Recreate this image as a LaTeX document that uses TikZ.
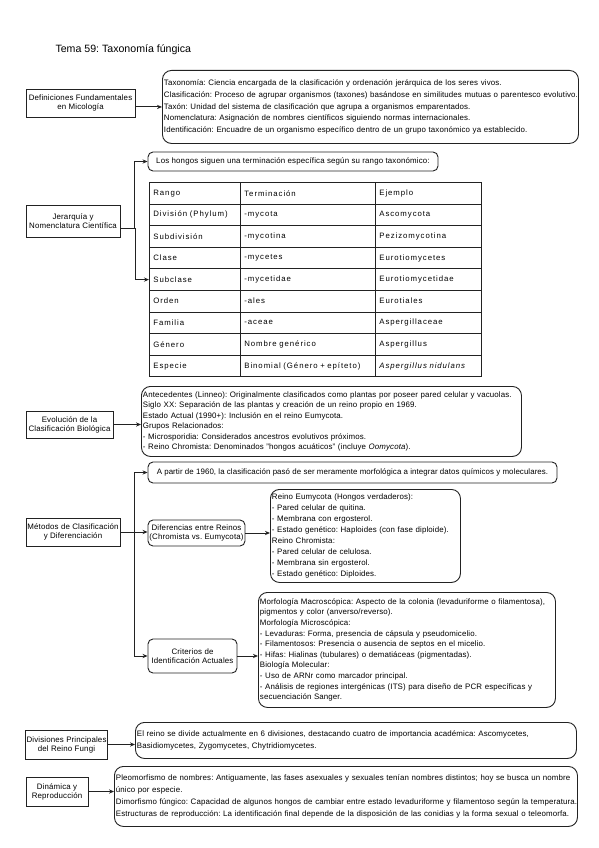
\documentclass[tikz,border=0pt]{standalone}
\usepackage{fontspec}
\setmainfont{Liberation Sans}
\usetikzlibrary{arrows.meta,positioning,calc}
\definecolor{ink}{RGB}{34,34,34}
\newcommand\boxfont{\fontsize{7.9}{9}\selectfont\addfontfeature{LetterSpace=2}}
\newcommand\cellfont{\fontsize{7.8}{9}\selectfont\addfontfeature{LetterSpace=12}}
\newcommand\txtfont[1]{\fontsize{7.9}{#1}\selectfont\addfontfeature{LetterSpace=1.5}}
\tikzset{
  >={Stealth[length=5pt,width=4.2pt]},
  topic/.style={draw=ink,line width=0.9pt,align=center,font=\boxfont,inner sep=1pt},
  pill/.style={topic,rounded corners=5pt},
  note/.style={draw=ink,line width=0.9pt,rounded corners=9pt,align=left,
    inner xsep=1.5pt,inner ysep=0pt,anchor=north west},
  cell/.style={draw=ink,line width=0.8pt,anchor=north west,align=left,
    inner xsep=4pt,inner ysep=0pt,minimum height=21.6pt,font=\cellfont},
  flow/.style={->,draw=ink,line width=0.9pt},
}

\begin{document}
\frenchspacing
\begin{tikzpicture}[x=1pt,y=-1pt]
  \useasboundingbox (0,0) rectangle (599,848);
  \node[anchor=west,font=\fontsize{10.6}{12}\selectfont] (title) at (52,50) {Tema 59: Taxonomía fúngica};

  % definiciones
  \node[topic,minimum width=109,minimum height=28] (defi) at (80.5,103) {Definiciones Fundamentales\\en Micología};
  \node[note,text width=413,minimum height=73,font=\txtfont{11.7}] (defitxt) at (162,70)
    {Taxonomía: Ciencia encargada de la clasificación y ordenación jerárquica de los seres vivos.\\
     Clasificación: Proceso de agrupar organismos (taxones) basándose en similitudes mutuas o parentesco evolutivo.\\
     Taxón: Unidad del sistema de clasificación que agrupa a organismos emparentados.\\
     Nomenclatura: Asignación de nombres científicos siguiendo normas internacionales.\\
     Identificación: Encuadre de un organismo específico dentro de un grupo taxonómico ya establecido.};
  \draw[flow] (defi.east |- defitxt.west) -- (defitxt.west);

  % jerarquia
  \node[topic,minimum width=94,minimum height=32] (jer) at (73,221) {Jerarquía y\\Nomenclatura Científica};
  \node[pill,minimum width=290,minimum height=19] (hongos) at (293,161.5)
    {Los hongos siguen una terminación específica según su rango taxonómico:};
  \foreach \a/\b/\c [count=\i] in {Rango/Terminación/Ejemplo,
      División (Phylum)/-mycota/Ascomycota,
      Subdivisión/-mycotina/Pezizomycotina,
      Clase/-mycetes/Eurotiomycetes,
      Subclase/-mycetidae/Eurotiomycetidae,
      Orden/-ales/Eurotiales,
      Familia/-aceae/Aspergillaceae,
      Género/Nombre genérico/Aspergillus,
      Especie/Binomial (Género + epíteto)/\textit{Aspergillus nidulans}}{
    \node[cell,text width=83] (r\i a) at (149,{182+(\i-1)*21.6}) {\a};
    \node[cell,text width=127] (r\i b) at (240,{182+(\i-1)*21.6}) {\b};
    \node[cell,text width=98] (r\i c) at (375,{182+(\i-1)*21.6}) {\c};
  }
  \draw[flow] ([yshift=-7pt]jer.east) -| ([xshift=-13pt]hongos.west) -- (hongos.west);
  \draw[flow] ([yshift=-7pt]jer.east) -| ([xshift=-14pt]r5a.west) -- (r5a.west);

  % evolucion
  \node[topic,minimum width=87,minimum height=27] (evo) at (69.5,424.5) {Evolución de la\\Clasificación Biológica};
  \node[note,text width=377,minimum height=70,font=\txtfont{10.4}] (evotxt) at (141,386)
    {Antecedentes (Linneo): Originalmente clasificados como plantas por poseer pared celular y vacuolas.\\
     Siglo XX: Separación de las plantas y creación de un reino propio en 1969.\\
     Estado Actual (1990+): Inclusión en el reino Eumycota.\\
     Grupos Relacionados:\\
     - Microsporidia: Considerados ancestros evolutivos próximos.\\
     - Reino Chromista: Denominados "hongos acuáticos" (incluye \textit{Oomycota}).};
  \draw[flow] (evo.east) -- (evo.east -| evotxt.west);

  % metodos
  \node[topic,minimum width=94,minimum height=28] (met) at (73,532) {Métodos de Clasificación\\y Diferenciación};
  \node[pill,minimum width=409,minimum height=21,font=\boxfont\addfontfeature{LetterSpace=1}] (apartir) at (352.5,472.5)
    {A partir de 1960, la clasificación pasó de ser meramente morfológica a integrar datos químicos y moleculares.};
  \node[pill,minimum width=97,minimum height=26] (dif) at (196.5,533) {Diferencias entre Reinos\\(Chromista vs. Eumycota)};
  \node[note,text width=187,minimum height=93,font=\txtfont{11}] (eum) at (270,489)
    {Reino Eumycota (Hongos verdaderos):\\
     - Pared celular de quitina.\\
     - Membrana con ergosterol.\\
     - Estado genético: Haploides (con fase diploide).\\
     Reino Chromista:\\
     - Pared celular de celulosa.\\
     - Membrana sin ergosterol.\\
     - Estado genético: Diploides.};
  \node[pill,minimum width=89,minimum height=34] (crit) at (192.5,656) {Criterios de\\Identificación Actuales};
  \node[note,text width=294,minimum height=115,font=\txtfont{10.6}] (morf) at (258,592)
    {Morfología Macroscópica: Aspecto de la colonia (levaduriforme o filamentosa),\\
     pigmentos y color (anverso/reverso).\\
     Morfología Microscópica:\\
     - Levaduras: Forma, presencia de cápsula y pseudomicelio.\\
     - Filamentosos: Presencia o ausencia de septos en el micelio.\\
     - Hifas: Hialinas (tubulares) o dematiáceas (pigmentadas).\\
     Biología Molecular:\\
     - Uso de ARNr como marcador principal.\\
     - Análisis de regiones intergénicas (ITS) para diseño de PCR específicas y\\
     secuenciación Sanger.};
  \draw[flow] (met.east) -| ([xshift=-13pt]apartir.west) -- (apartir.west);
  \draw[flow] (met.east) -- (met.east -| dif.west);
  \draw[flow] (met.east) -| ([xshift=-13pt]crit.west) -- (crit.west);
  \draw[flow] (dif.east) -- (dif.east -| eum.west);
  \draw[flow] (crit.east) -- (crit.east -| morf.west);

  % divisiones
  \node[topic,minimum width=81,minimum height=29] (divi) at (66.5,744.5) {Divisiones Principales\\del Reino Fungi};
  \node[note,text width=438,minimum height=36,font=\txtfont{11.5}] (divitxt) at (135,722)
    {El reino se divide actualmente en 6 divisiones, destacando cuatro de importancia académica: Ascomycetes,\\
     Basidiomycetes, Zygomycetes, Chytridiomycetes.};
  \draw[flow] (divi.east) -- (divi.east -| divitxt.west);

  % dinamica
  \node[topic,minimum width=62,minimum height=29] (din) at (57,791.5) {Dinámica y\\Reproducción};
  \node[note,text width=460,minimum height=60,font=\txtfont{12}] (dintxt) at (114,766)
    {Pleomorfismo de nombres: Antiguamente, las fases asexuales y sexuales tenían nombres distintos; hoy se busca un nombre\\
     único por especie.\\
     Dimorfismo fúngico: Capacidad de algunos hongos de cambiar entre estado levaduriforme y filamentoso según la temperatura.\\
     Estructuras de reproducción: La identificación final depende de la disposición de las conidias y la forma sexual o teleomorfa.};
  \draw[flow] (din.east) -- (din.east -| dintxt.west);
\end{tikzpicture}
\end{document}
